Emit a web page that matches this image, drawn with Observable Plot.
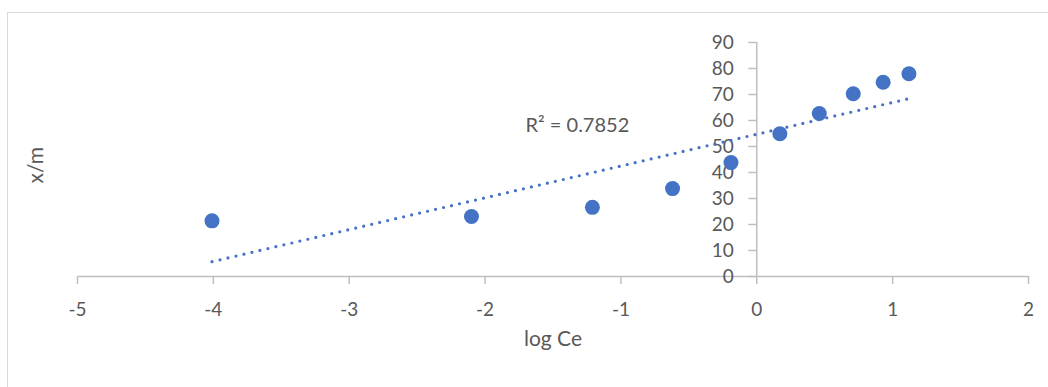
<!DOCTYPE html>
<html>
<head>
<meta charset="utf-8">
<script src="https://cdn.jsdelivr.net/npm/d3@7"></script>
<script src="https://cdn.jsdelivr.net/npm/@observablehq/plot@0.6"></script>
<style>
  html, body { margin: 0; padding: 0; background: #fff; }
  #wrap { position: relative; width: 1048px; height: 387px; overflow: hidden; }
  #border { position: absolute; left: 7px; top: 12px; width: 1100px; height: 500px; border: 1px solid #d9d9d9; box-sizing: border-box; }
  #chart { position: absolute; left: 0; top: 0; }
</style>
</head>
<body>
<div id="wrap"><div id="border"></div><div id="chart"></div></div>
<script>
// Data
const logCe = [-4.01, -2.10, -1.21, -0.62, -0.19, 0.17, 0.46, 0.71, 0.93, 1.12];
const xm    = [21.4, 23.1, 26.6, 33.8, 43.8, 54.9, 62.7, 70.3, 74.7, 78.0];
const xTicks = [-5, -4, -3, -2, -1, 0, 1, 2];
const yTicks = [0, 10, 20, 30, 40, 50, 60, 70, 80, 90];
const xTitle = "log Ce";
const yTitle = "x/m";
const r2Label = "R² = 0.7852";

const points = logCe.map((x, i) => ({x, y: xm[i]}));

const axisColor = "#bfbfbf";
const textColor = "#595959";
const blue = "#4472C4";

const chart = Plot.plot({
  width: 1048,
  height: 387,
  marginLeft: 77,
  marginRight: 20,
  marginTop: 42,
  marginBottom: 111,
  style: {fontFamily: "Lato, 'Open Sans', sans-serif", background: "transparent"},
  x: {domain: [-5, 2], axis: null},
  y: {domain: [0, 90], axis: null},
  marks: [
    // axes crossing at zero
    Plot.ruleY([0], {x1: xTicks[0], x2: xTicks[xTicks.length - 1], stroke: axisColor, strokeWidth: 1.5}),
    Plot.ruleX([0], {y1: yTicks[0], y2: yTicks[yTicks.length - 1], stroke: axisColor, strokeWidth: 1.5}),
    Plot.ruleX(xTicks, {x: d => d, y1: 0, y2: 0, insetBottom: -8, stroke: axisColor, strokeWidth: 1.5}),
    Plot.ruleY(yTicks, {y: d => d, x1: 0, x2: 0, insetLeft: -8, stroke: axisColor, strokeWidth: 1.5}),
    Plot.text(xTicks, {x: d => d, y: 0, dy: 33, text: d => String(d).replace("−", "-"), fill: textColor, fontSize: 19}),
    Plot.text(yTicks, {x: 0, y: d => d, dx: -23, textAnchor: "end", text: d => String(d), fill: textColor, fontSize: 19}),
    // trendline
    Plot.linearRegressionY(points, {x: "x", y: "y", ci: 0, stroke: blue, strokeWidth: 3.2, strokeDasharray: "0 8.2", strokeLinecap: "round"}),
    // data points
    Plot.dot(points, {x: "x", y: "y", r: 7.5, fill: blue}),
    // labels
    Plot.text([r2Label], {frameAnchor: "top-left", dx: 448, dy: 75, textAnchor: "start", text: d => d, fill: textColor, fontSize: 20}),
    Plot.text([xTitle], {frameAnchor: "bottom", dy: 69, text: d => d, fill: textColor, fontSize: 21}),
    Plot.text([yTitle], {frameAnchor: "left", dx: -41, dy: 24, rotate: -90, text: d => d, fill: textColor, fontSize: 21})
  ]
});
document.getElementById("chart").appendChild(chart);
</script>
</body>
</html>
